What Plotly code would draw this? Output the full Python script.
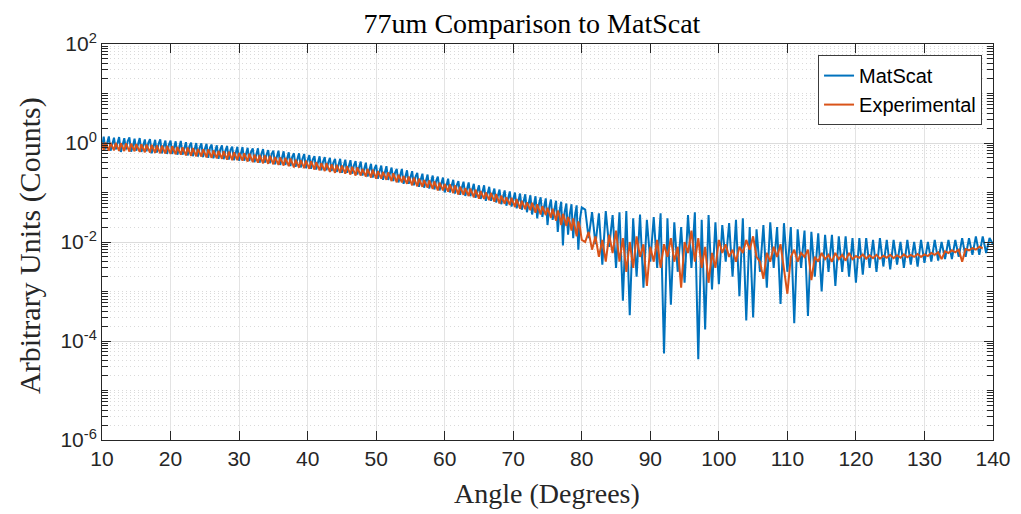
import plotly.graph_objects as go

# ---- data ----
# segment A: 10 .. 80 deg every 0.25 deg ; segment B: 80.5 .. 140 deg every 0.5 deg
seg_a_start, seg_a_step = 10.0, 0.25
seg_b_start, seg_b_step = 80.5, 0.5

matscat_a = [
    0.80, 1.35, 0.74, 1.05,   1.36, 0.70, 0.92, 1.28,   0.74, 1.05, 1.32, 0.66,
    0.96, 1.25, 0.74, 1.08,   1.30, 0.67, 0.85, 1.22,   0.70, 1.02, 1.26, 0.66,
    0.90, 1.18, 0.68, 1.00,   1.20, 0.62, 0.82, 1.16,   0.64, 0.95, 1.18, 0.62,
    0.86, 1.12, 0.60, 0.92,   1.12, 0.60, 0.80, 1.08,   0.58, 0.86, 1.10, 0.58,
    0.82, 1.04, 0.56, 0.86,   1.02, 0.54, 0.74, 1.00,   0.53, 0.80, 0.98, 0.52,
    0.76, 0.96, 0.50, 0.80,   0.93, 0.49, 0.68, 0.90,   0.48, 0.74, 0.90, 0.47,
    0.70, 0.87, 0.46, 0.72,   0.84, 0.45, 0.62, 0.84,   0.44, 0.66, 0.83, 0.44,
    0.64, 0.80, 0.43, 0.66,   0.78, 0.41, 0.58, 0.78,   0.40, 0.60, 0.75, 0.40,
    0.58, 0.72, 0.39, 0.60,   0.70, 0.37, 0.52, 0.70,   0.36, 0.54, 0.68, 0.36,
    0.52, 0.65, 0.34, 0.52,   0.62, 0.33, 0.47, 0.62,   0.32, 0.48, 0.60, 0.31,
    0.45, 0.57, 0.30, 0.46,   0.54, 0.29, 0.40, 0.54,   0.28, 0.42, 0.52, 0.28,
    0.40, 0.50, 0.27, 0.40,   0.48, 0.26, 0.36, 0.48,   0.25, 0.37, 0.46, 0.25,
    0.36, 0.45, 0.24, 0.35,   0.43, 0.23, 0.32, 0.42,   0.22, 0.32, 0.40, 0.21,
    0.30, 0.38, 0.20, 0.30,   0.36, 0.19, 0.27, 0.35,   0.18, 0.27, 0.34, 0.18,
    0.26, 0.32, 0.17, 0.25,   0.30, 0.16, 0.22, 0.30,   0.15, 0.22, 0.28, 0.15,
    0.21, 0.27, 0.14, 0.21,   0.25, 0.13, 0.18, 0.24,   0.125, 0.18, 0.23, 0.12,
    0.17, 0.22, 0.115, 0.17,  0.21, 0.11, 0.15, 0.20,   0.10, 0.15, 0.19, 0.10,
    0.14, 0.18, 0.095, 0.14,  0.17, 0.09, 0.125, 0.165, 0.085, 0.12, 0.16, 0.084,
    0.11, 0.15, 0.078, 0.11,  0.14, 0.074, 0.10, 0.14,  0.068, 0.10, 0.13, 0.068,
    0.092, 0.12, 0.063, 0.09, 0.115, 0.058, 0.082, 0.11, 0.054, 0.08, 0.105, 0.052,
    0.074, 0.10, 0.048, 0.072, 0.095, 0.045, 0.066, 0.092, 0.040, 0.064, 0.088, 0.036,
    0.060, 0.084, 0.030, 0.058, 0.080, 0.032, 0.052, 0.076, 0.022, 0.050, 0.072, 0.028,
    0.045, 0.068, 0.016, 0.042, 0.065, 0.0085, 0.040, 0.060, 0.014, 0.036, 0.058, 0.012,
    0.034, 0.055, 0.007, 0.030,
    0.050,
]

matscat_b = [
    # 80.5 - 90
    0.045, 0.012, 0.040, 0.009, 0.038, 0.0035, 0.042, 0.008, 0.035, 0.0030,
    0.040, 6.5e-4, 0.042, 3.3e-4, 0.030, 0.0020, 0.036, 0.0012, 0.028, 0.0040,
    # 90.5 - 100
    0.032, 0.0030, 0.038, 5.6e-5, 0.030, 5.4e-4, 0.025, 0.0025, 0.020, 0.0015,
    0.035, 0.0030, 0.040, 4.3e-5, 0.028, 1.7e-4, 0.035, 0.0011, 0.025, 0.0014,
    # 100.5 - 110
    0.022, 0.0040, 0.024, 0.0020, 0.028, 8.0e-4, 0.030, 2.6e-4, 0.020, 3.0e-4,
    0.018, 0.0025, 0.022, 0.0012, 0.025, 0.0030, 0.020, 5.6e-4, 0.024, 0.0025,
    # 110.5 - 120
    0.020, 2.3e-4, 0.018, 0.0030, 0.017, 3.2e-4, 0.016, 0.0020, 0.015, 0.0010,
    0.014, 0.0025, 0.014, 0.0013, 0.013, 0.0025, 0.013, 0.0020, 0.012, 0.0015,
    # 120.5 - 130
    0.012, 0.0022, 0.012, 0.0030, 0.011, 0.0025, 0.012, 0.0032, 0.011, 0.0028,
    0.011, 0.0035, 0.010, 0.0030, 0.011, 0.0035, 0.010, 0.0032, 0.011, 0.0038,
    # 130.5 - 140
    0.010, 0.0040, 0.011, 0.0042, 0.010, 0.0045, 0.011, 0.0045, 0.011, 0.0050,
    0.012, 0.0050, 0.012, 0.0055, 0.013, 0.0055, 0.013, 0.0060, 0.012, 0.009,
]

experimental_a = [
    1.02, 0.71, 1.02, 0.86,   0.70, 1.01, 0.85, 0.71,   1.00, 0.84, 0.69, 0.99,
    0.83, 0.69, 0.98, 0.82,   0.67, 0.97, 0.80, 0.68,   0.95, 0.80, 0.66, 0.94,
    0.78, 0.65, 0.93, 0.77,   0.64, 0.92, 0.76, 0.63,   0.89, 0.75, 0.62, 0.88,
    0.73, 0.61, 0.87, 0.72,   0.60, 0.86, 0.71, 0.59,   0.83, 0.70, 0.58, 0.82,
    0.68, 0.56, 0.81, 0.67,   0.55, 0.79, 0.65, 0.54,   0.76, 0.64, 0.53, 0.75,
    0.62, 0.51, 0.74, 0.61,   0.50, 0.71, 0.59, 0.49,   0.69, 0.58, 0.48, 0.68,
    0.56, 0.46, 0.67, 0.55,   0.45, 0.65, 0.54, 0.45,   0.63, 0.53, 0.44, 0.62,
    0.51, 0.42, 0.61, 0.50,   0.41, 0.58, 0.48, 0.40,   0.57, 0.47, 0.39, 0.56,
    0.46, 0.38, 0.55, 0.45,   0.37, 0.52, 0.44, 0.36,   0.51, 0.42, 0.35, 0.50,
    0.41, 0.34, 0.49, 0.40,   0.32, 0.46, 0.39, 0.32,   0.45, 0.37, 0.31, 0.44,
    0.36, 0.30, 0.43, 0.35,   0.29, 0.41, 0.34, 0.28,   0.39, 0.33, 0.27, 0.39,
    0.31, 0.26, 0.37, 0.31,   0.25, 0.36, 0.30, 0.25,   0.35, 0.29, 0.24, 0.34,
    0.28, 0.23, 0.33, 0.27,   0.22, 0.32, 0.26, 0.22,   0.30, 0.25, 0.21, 0.30,
    0.24, 0.20, 0.29, 0.235,  0.19, 0.27, 0.23, 0.19,   0.26, 0.22, 0.18, 0.255,
    0.205, 0.17, 0.245, 0.20, 0.16, 0.23, 0.19, 0.16,   0.215, 0.18, 0.15, 0.21,
    0.17, 0.14, 0.20, 0.165,  0.133, 0.19, 0.16, 0.13,  0.178, 0.15, 0.125, 0.175,
    0.142, 0.118, 0.168, 0.14, 0.11, 0.158, 0.132, 0.11, 0.149, 0.125, 0.104, 0.146,
    0.117, 0.097, 0.139, 0.115, 0.091, 0.131, 0.109, 0.09, 0.122, 0.103, 0.085, 0.12,
    0.096, 0.08, 0.114, 0.095, 0.075, 0.107, 0.089, 0.074, 0.10, 0.084, 0.07, 0.098,
    0.078, 0.065, 0.093, 0.077, 0.06, 0.086, 0.071, 0.059, 0.08, 0.067, 0.056, 0.078,
    0.062, 0.051, 0.074, 0.061, 0.047, 0.068, 0.056, 0.046, 0.063, 0.053, 0.044, 0.062,
    0.048, 0.039, 0.058, 0.047, 0.036, 0.053, 0.043, 0.035, 0.049, 0.040, 0.031, 0.047,
    0.035, 0.027, 0.043, 0.034, 0.022, 0.037, 0.029, 0.021, 0.032, 0.025, 0.017, 0.030,
    0.020, 0.013, 0.026, 0.019,
    0.011,
]

experimental_b = [
    # 80.5 - 90
    0.010, 0.016, 0.007, 0.013, 0.005, 0.011, 0.004, 0.014, 0.006, 0.017,
    0.004, 0.012, 0.0025, 0.010, 0.003, 0.013, 0.005, 0.009, 0.0013, 0.008,
    # 90.5 - 100
    0.004, 0.011, 0.003, 0.009, 0.005, 0.012, 0.004, 0.008, 0.0012, 0.010,
    0.006, 0.017, 0.004, 0.012, 0.003, 0.008, 0.0015, 0.006, 0.003, 0.011,
    # 100.5 - 110
    0.006, 0.009, 0.005, 0.007, 0.004, 0.008, 0.006, 0.011, 0.007, 0.013,
    0.005, 0.004, 0.0018, 0.006, 0.004, 0.008, 0.005, 0.009, 0.003, 0.0009,
    # 110.5 - 120
    0.005, 0.007, 0.004, 0.006, 0.005, 0.007, 0.0017, 0.005, 0.004, 0.006,
    0.0045, 0.0055, 0.004, 0.006, 0.0045, 0.0055, 0.0042, 0.006, 0.0045, 0.0052,
    # 120.5 - 130
    0.0048, 0.0056, 0.0046, 0.0054, 0.0047, 0.0055, 0.0046, 0.0053, 0.0048, 0.0055,
    0.0047, 0.0054, 0.0048, 0.0056, 0.0049, 0.0055, 0.0050, 0.0057, 0.0050, 0.0056,
    # 130.5 - 138.5
    0.0052, 0.0060, 0.0055, 0.0062, 0.0045, 0.0065, 0.0060, 0.0068, 0.0062, 0.0070,
    0.0040, 0.0072, 0.0068, 0.0075, 0.0070, 0.0080, 0.0074,
]


def seg_angles(start, step, n):
    return [start + step * i for i in range(n)]


angles_m = seg_angles(seg_a_start, seg_a_step, len(matscat_a)) + \
    seg_angles(seg_b_start, seg_b_step, len(matscat_b))
angles_e = seg_angles(seg_a_start, seg_a_step, len(experimental_a)) + \
    seg_angles(seg_b_start, seg_b_step, len(experimental_b))
matscat = matscat_a + matscat_b
experimental = experimental_a + experimental_b

x_ticks = [10, 20, 30, 40, 50, 60, 70, 80, 90, 100, 110, 120, 130, 140]
y_ticks = [1e-6, 1e-4, 1e-2, 1e0, 1e2]
y_tick_text = ["10<sup>-6</sup>", "10<sup>-4</sup>", "10<sup>-2</sup>",
               "10<sup>0</sup>", "10<sup>2</sup>"]

title_text = "77um Comparison to MatScat"
x_label = "Angle (Degrees)"
y_label = "Arbitrary Units (Counts)"

# minor log ticks (2..9 of every decade plus the unlabeled odd decades)
y_minor = []
for e in range(-6, 2):
    for k in range(1, 10):
        if k == 1 and e % 2 == 0:
            continue
        y_minor.append(k * 10.0 ** e)

BLUE = "#0072BD"
ORANGE = "#D95319"
AX = "#262626"
SERIF = "Liberation Serif, Times New Roman, serif"
SANS = "Liberation Sans, Arial, Helvetica, sans-serif"

fig = go.Figure()
fig.add_trace(go.Scatter(x=angles_m, y=matscat, mode="lines", name="MatScat",
                         line=dict(color=BLUE, width=2)))
fig.add_trace(go.Scatter(x=angles_e, y=experimental, mode="lines", name="Experimental",
                         line=dict(color=ORANGE, width=2)))

fig.update_layout(
    width=1021, height=514,
    margin=dict(l=102, r=28, t=44, b=74, autoexpand=False),
    paper_bgcolor="white", plot_bgcolor="white",
    font=dict(family=SANS, color=AX, size=21),
    title=dict(text=title_text, x=532 / 1021, xanchor="center",
               y=1 - 23 / 514, yanchor="middle", yref="container",
               font=dict(family=SERIF, size=28, color="black")),
    showlegend=True,
    legend=dict(x=0.9877, xanchor="right", y=0.972, yanchor="top",
                bgcolor="white", bordercolor="#3c3c3c", borderwidth=1,
                font=dict(family=SANS, size=20, color="black"),
                tracegroupgap=0, itemwidth=30),
    annotations=[
        dict(text=x_label, xref="paper", yref="paper", x=0.499, y=-0.136,
             xanchor="center", yanchor="middle", showarrow=False,
             font=dict(family=SERIF, size=28, color=AX)),
        dict(text=y_label, xref="paper", yref="paper", x=-0.081, y=0.492,
             xanchor="center", yanchor="middle", showarrow=False, textangle=-90,
             font=dict(family=SERIF, size=30, color=AX)),
    ],
)

fig.update_xaxes(
    range=[10, 140], tickmode="array", tickvals=x_ticks, automargin=False,
    ticks="inside", ticklen=9, tickwidth=1, tickcolor=AX,
    showline=True, linecolor=AX, linewidth=1, mirror="allticks",
    showgrid=True, gridcolor="#e3e3e3", gridwidth=1,
    zeroline=False, tickfont=dict(family=SANS, size=21, color=AX),
)
fig.update_yaxes(
    type="log", range=[-6, 2], tickmode="array", tickvals=y_ticks,
    ticktext=y_tick_text, automargin=False,
    ticks="inside", ticklen=9, tickwidth=1, tickcolor=AX,
    showline=True, linecolor=AX, linewidth=1, mirror="allticks",
    showgrid=True, gridcolor="#dcdcdc", gridwidth=1,
    zeroline=False, tickfont=dict(family=SANS, size=21, color=AX),
    minor=dict(tickmode="array", tickvals=y_minor, ticks="inside", ticklen=6,
               tickcolor=AX, showgrid=True, gridcolor="#dadada",
               griddash="1px,3px", gridwidth=1),
)

fig.write_html(
    "out.html",
    config={"displayModeBar": False},
    post_script="document.body.style.margin='0';document.body.style.overflow='hidden';",
)
